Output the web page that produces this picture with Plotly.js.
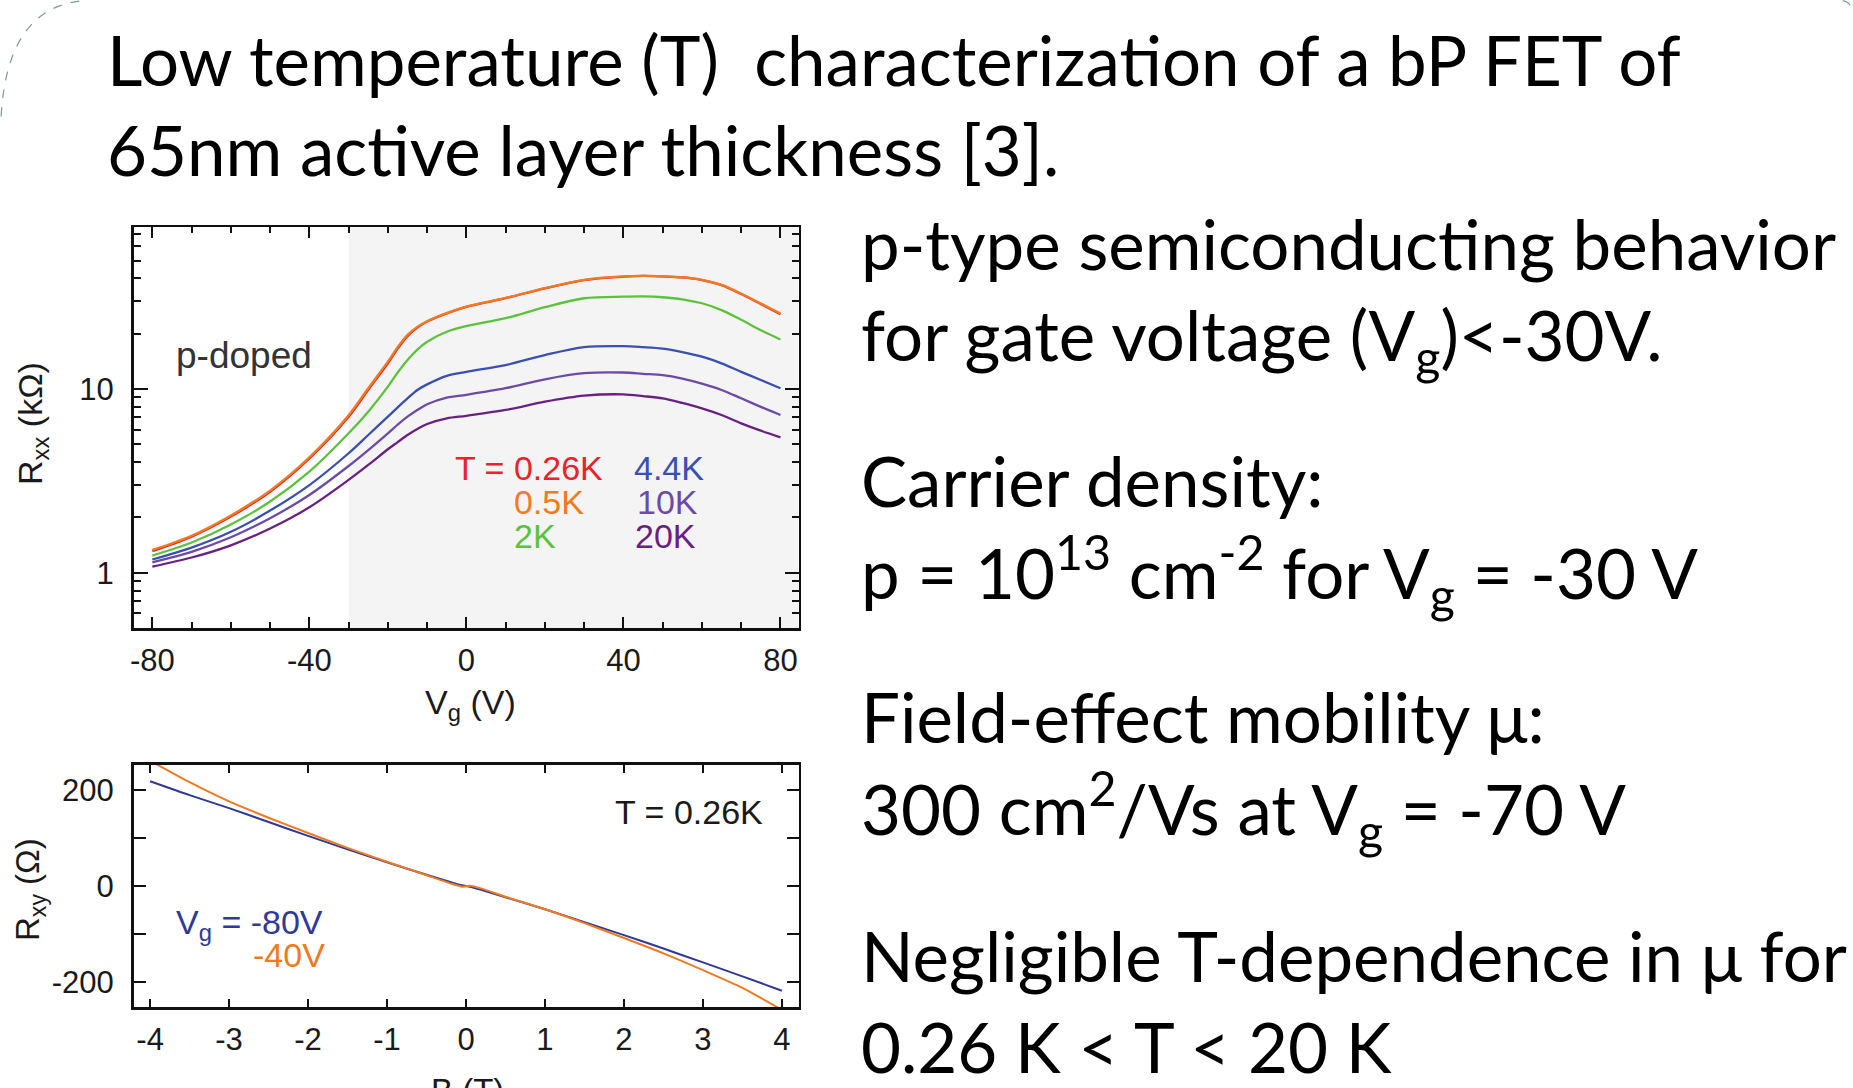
<!DOCTYPE html>
<html>
<head>
<meta charset="utf-8">
<script src="https://cdn.plot.ly/plotly-3.0.1.min.js"></script>
<style>
  html, body { margin: 0; padding: 0; background: #ffffff; }
  #chart { width: 1853px; height: 1088px; }
</style>
</head>
<body>
<div id="chart"></div>
<script>
// ---------------- DATA ----------------
// Top panel: Rxx (kOhm) vs gate voltage Vg (V) for several temperatures
const vg = [-80, -70, -60, -50, -40, -30, -25, -20, -17.5, -15, -12.5, -10, -5, 0, 10, 20, 30, 40, 45, 50, 55, 60, 65, 70, 75, 80];
const rxx_026K = [1.31, 1.57, 2.02, 2.76, 4.19, 7.07, 9.9, 13.8, 16.6, 19.4, 21.6, 23.3, 25.8, 28.0, 31.2, 35.3, 39.2, 40.9, 41.3, 41.0, 40.5, 39.2, 36.8, 32.9, 29.0, 25.5];
const rxx_05K  = [1.33, 1.59, 2.05, 2.80, 4.25, 7.20, 10.1, 14.1, 16.9, 19.7, 21.8, 23.4, 25.9, 28.1, 31.3, 35.4, 39.3, 41.0, 41.3, 41.1, 40.6, 39.3, 36.9, 33.0, 29.2, 25.8];
const rxx_2K   = [1.24, 1.46, 1.83, 2.44, 3.55, 5.74, 7.53, 10.3, 12.3, 14.4, 16.4, 18.1, 20.5, 22.0, 24.3, 27.9, 31.2, 31.8, 31.9, 31.6, 30.8, 29.3, 26.9, 23.8, 20.9, 18.6];
const rxx_44K  = [1.18, 1.37, 1.67, 2.18, 3.00, 4.47, 5.62, 7.07, 7.95, 8.89, 9.88, 10.6, 11.8, 12.4, 13.5, 15.3, 16.9, 17.1, 16.9, 16.6, 15.9, 15.0, 13.8, 12.4, 11.2, 10.1];
const rxx_10K  = [1.14, 1.30, 1.56, 1.98, 2.65, 3.81, 4.65, 5.74, 6.40, 7.07, 7.69, 8.26, 8.98, 9.3, 10.1, 11.3, 12.2, 12.3, 12.1, 11.9, 11.4, 10.7, 9.88, 8.90, 8.00, 7.22];
const rxx_20K  = [1.08, 1.21, 1.41, 1.74, 2.27, 3.20, 3.86, 4.70, 5.14, 5.62, 6.06, 6.45, 6.92, 7.15, 7.69, 8.53, 9.20, 9.35, 9.15, 8.90, 8.40, 7.85, 7.22, 6.50, 5.93, 5.46];
const tempLabels = ["T = 0.26K", "0.5K", "2K", "4.4K", "10K", "20K"];
const pDopedStart = -30;   // Vg boundary of the shaded region
const vgTicks = [-80, -40, 0, 40, 80];
const vgTickText = ["-80", "-40", "0", "40", "80"];
const rxxTicks = [1, 10];
const rxxTickText = ["1", "10"];
const rxxMinor = [0.5, 0.6, 0.7, 0.8, 0.9, 2, 3, 4, 5, 6, 7, 8, 9, 20, 30, 40, 50, 60, 70];

// Bottom panel: Rxy (Ohm) vs magnetic field B (T) at T = 0.26K
const bField = [-4, -3.5, -3, -2.5, -2, -1.5, -1, -0.5, -0.2, -0.05, 0.05, 0.2, 0.5, 1, 1.5, 2, 2.5, 3, 3.5, 4];
const rxy_m80 = [219, 190, 163, 134, 105, 77, 50, 24, 9, 2, -1, -8, -23, -48, -75, -102, -130, -159, -188, -218];
const rxy_m40 = [262, 217, 177, 143, 111, 80, 51, 23, 6, -1, 1, -5, -22, -48, -77, -108, -140, -175, -212, -258];
const bTicks = [-4, -3, -2, -1, 0, 1, 2, 3, 4];
const bTickText = ["-4", "-3", "-2", "-1", "0", "1", "2", "3", "4"];
const rxyTicks = [-200, -100, 0, 100, 200];
const rxyTickText = ["-200", "", "0", "", "200"];

// Slide text
const titleLines = ["Low temperature (T)&nbsp; characterization of a bP FET of", "65nm active layer thickness [3]."];
const bulletLines = [
  "p-type semiconducting behavior",
  "for gate voltage (V<sub>g</sub>)&lt;-30V.",
  "Carrier density:",
  "p = 10<sup>13</sup> cm<sup>-2</sup> for V<sub>g</sub> = -30 V",
  "Field-effect mobility μ:",
  "300 cm<sup>2</sup>/Vs at V<sub>g</sub> = -70 V",
  "Negligible T-dependence in μ for",
  "0.26 K &lt; T &lt; 20 K"
];

// ---------------- STYLE ----------------
const W = 1853, H = 1088;
const px = x => x / W;
const py = y => 1 - y / H;
const colT = ["#e8232d", "#f27a21", "#5cc23c", "#3a50b0", "#6b4aa8", "#6a2082"];
const colB = ["#2e3a96", "#f07a22"];
const plotFont = "Liberation Sans, Arial, sans-serif";
const slideFont = "Lato, Calibri, sans-serif";
const slideSize = 69;

const tempSeries = [rxx_026K, rxx_05K, rxx_2K, rxx_44K, rxx_10K, rxx_20K];
const order = [5, 4, 3, 2, 0, 1];
const traces = [];
order.forEach(i => {
  traces.push({
    x: vg, y: tempSeries[i], xaxis: "x", yaxis: "y", type: "scatter", mode: "lines",
    line: { color: colT[i], width: 2.3, shape: "spline", smoothing: 0.9 },
    name: tempLabels[i], showlegend: false, hoverinfo: "skip"
  });
});
traces.push({
  x: bField, y: rxy_m80, xaxis: "x2", yaxis: "y2", type: "scatter", mode: "lines",
  line: { color: colB[0], width: 2, shape: "spline", smoothing: 0.6 }, showlegend: false, hoverinfo: "skip"
});
traces.push({
  x: bField, y: rxy_m40, xaxis: "x2", yaxis: "y2", type: "scatter", mode: "lines",
  line: { color: colB[1], width: 2, shape: "spline", smoothing: 0.6 }, showlegend: false, hoverinfo: "skip"
});

const axisCommon = {
  showline: true, linecolor: "#111", linewidth: 2.5, mirror: "allticks",
  ticks: "inside", tickcolor: "#111", tickwidth: 2,
  showgrid: false, zeroline: false, fixedrange: true,
  tickfont: { family: plotFont, size: 31, color: "#1a1a1a" }
};

const ann = [];
titleLines.forEach((t, i) => {
  ann.push({ text: t, xref: "paper", yref: "paper", x: px(105), y: py([87, 177][i]),
    xanchor: "left", yanchor: "bottom", yshift: -16, showarrow: false,
    font: { family: slideFont, size: slideSize, color: "#000" } });
});
const bulletBase = [267, 357, 505, 596, 744, 835, 983, 1074];
const bulletAdj = [4, 14, 3, 13, 0, 10, 0, 0];
bulletLines.forEach((t, i) => {
  ann.push({ text: t, xref: "paper", yref: "paper", x: px(859), y: py(bulletBase[i]),
    xanchor: "left", yanchor: "bottom", yshift: -16 - bulletAdj[i], showarrow: false,
    font: { family: slideFont, size: slideSize, color: "#000" } });
});
// axis titles
ann.push({ text: "R<sub>xx</sub> (kΩ)", xref: "paper", yref: "paper", x: px(33), y: py(424), textangle: -90,
  xanchor: "center", yanchor: "middle", showarrow: false, font: { family: plotFont, size: 34, color: "#1a1a1a" } });
ann.push({ text: "V<sub>g</sub> (V)", xref: "paper", yref: "paper", x: px(470), y: py(704),
  xanchor: "center", yanchor: "middle", showarrow: false, font: { family: plotFont, size: 34, color: "#1a1a1a" } });
ann.push({ text: "R<sub>xy</sub> (Ω)", xref: "paper", yref: "paper", x: px(30), y: py(890), textangle: -90,
  xanchor: "center", yanchor: "middle", showarrow: false, font: { family: plotFont, size: 33, color: "#1a1a1a" } });
ann.push({ text: "B (T)", xref: "paper", yref: "paper", x: px(467), y: py(1090),
  xanchor: "center", yanchor: "middle", showarrow: false, font: { family: plotFont, size: 33, color: "#1a1a1a" } });
// in-plot text
ann.push({ text: "p-doped", xref: "paper", yref: "paper", x: px(174), y: py(355),
  xanchor: "left", yanchor: "middle", showarrow: false, font: { family: plotFont, size: 37, color: "#333" } });
const legX = [453, 512, 512, 632, 635, 633];
const legY = [468, 502, 536, 468, 502, 536];
tempLabels.forEach((t, i) => {
  ann.push({ text: t, xref: "paper", yref: "paper", x: px(legX[i]), y: py(legY[i]),
    xanchor: "left", yanchor: "middle", showarrow: false, font: { family: plotFont, size: 34, color: colT[i] } });
});
ann.push({ text: "T = 0.26K", xref: "paper", yref: "paper", x: px(613), y: py(812),
  xanchor: "left", yanchor: "middle", showarrow: false, font: { family: plotFont, size: 34, color: "#1a1a1a" } });
ann.push({ text: "V<sub>g</sub> = -80V", xref: "paper", yref: "paper", x: px(174), y: py(924),
  xanchor: "left", yanchor: "middle", showarrow: false, font: { family: plotFont, size: 34, color: colB[0] } });
ann.push({ text: "-40V", xref: "paper", yref: "paper", x: px(251), y: py(955),
  xanchor: "left", yanchor: "middle", showarrow: false, font: { family: plotFont, size: 34, color: colB[1] } });

const layout = {
  width: W, height: H,
  margin: { l: 0, r: 0, t: 0, b: 0 },
  paper_bgcolor: "#ffffff", plot_bgcolor: "rgba(0,0,0,0)",
  showlegend: false,
  xaxis: Object.assign({}, axisCommon, {
    domain: [px(133.5), px(798.5)], anchor: "y", range: [-84.8, 84.6],
    tickmode: "array", tickvals: vgTicks, ticktext: vgTickText, ticklen: 11, ticklabelstandoff: 3,
    minor: { dtick: 10, tick0: 0, ticks: "inside", ticklen: 6, tickwidth: 2, tickcolor: "#111" }
  }),
  yaxis: Object.assign({}, axisCommon, {
    domain: [py(628), py(227)], anchor: "x", type: "log", range: [-0.301, 1.882],
    tickmode: "array", tickvals: rxxTicks, ticktext: rxxTickText, ticklen: 14, ticklabelstandoff: 11,
    minor: { tickmode: "array", tickvals: rxxMinor, ticks: "inside", ticklen: 7, tickwidth: 2, tickcolor: "#111" }
  }),
  xaxis2: Object.assign({}, axisCommon, {
    domain: [px(133.5), px(798.5)], anchor: "y2", range: [-4.21, 4.21],
    tickmode: "array", tickvals: bTicks, ticktext: bTickText, ticklen: 8, ticklabelstandoff: 3
  }),
  yaxis2: Object.assign({}, axisCommon, {
    domain: [py(1007), py(764.5)], anchor: "x2", range: [-252, 254],
    tickmode: "array", tickvals: rxyTicks, ticktext: rxyTickText, ticklen: 12, ticklabelstandoff: 11
  }),
  shapes: [
    { type: "rect", xref: "x", yref: "y domain", x0: pDopedStart, x1: 84.6, y0: 0, y1: 1,
      fillcolor: "#f4f4f4", line: { width: 0 }, layer: "below" },
    { type: "path", xref: "paper", yref: "paper",
      path: "M 0.0006,0.893 Q 0.004,0.996 0.047,0.9995",
      line: { color: "#7f9c8c", width: 1.2, dash: "dash" } },
    { type: "path", xref: "paper", yref: "paper",
      path: "M 0.9945,0.9995 Q 0.9992,0.998 0.9997,0.988",
      line: { color: "#7f9c8c", width: 1.2, dash: "dash" } }
  ],
  annotations: ann
};

Plotly.newPlot("chart", traces, layout, { staticPlot: true, displayModeBar: false });
</script>
</body>
</html>
